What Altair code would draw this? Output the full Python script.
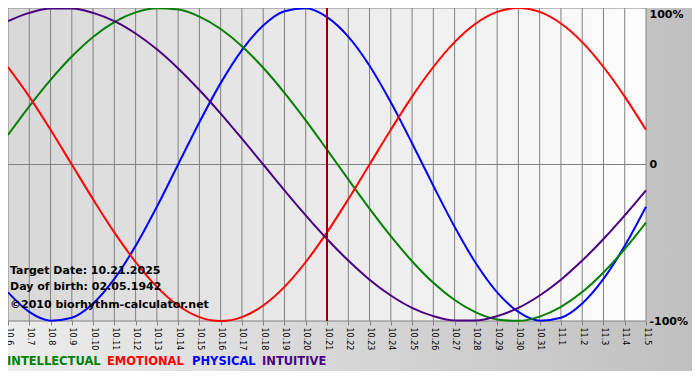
import altair as alt
import pandas as pd

# ---------------- data ----------------
days = ["10.6", "10.7", "10.8", "10.9", "10.10", "10.11", "10.12", "10.13", "10.14",
        "10.15", "10.16", "10.17", "10.18", "10.19", "10.20", "10.21", "10.22", "10.23",
        "10.24", "10.25", "10.26", "10.27", "10.28", "10.29", "10.30", "10.31",
        "11.1", "11.2", "11.3", "11.4", "11.5"]
target_day = "10.21"

physical = [-0.817, -0.942, -0.998, -0.979, -0.888, -0.731, -0.520, -0.270, 0.0, 0.270,
            0.520, 0.731, 0.888, 0.979, 0.998, 0.942, 0.817, 0.631, 0.398, 0.136,
            -0.136, -0.398, -0.631, -0.817, -0.942, -0.998, -0.979, -0.888, -0.731,
            -0.520, -0.270]
emotional = [0.623, 0.434, 0.222, 0.0, -0.222, -0.434, -0.623, -0.782, -0.901, -0.975,
             -1.0, -0.975, -0.901, -0.782, -0.623, -0.434, -0.222, 0.0, 0.222, 0.434,
             0.623, 0.782, 0.901, 0.975, 1.0, 0.975, 0.901, 0.782, 0.623, 0.434, 0.222]
intellectual = [0.189, 0.372, 0.541, 0.690, 0.815, 0.910, 0.972, 0.999, 0.990, 0.945,
                0.866, 0.756, 0.618, 0.458, 0.282, 0.095, -0.095, -0.282, -0.458, -0.618,
                -0.756, -0.866, -0.945, -0.990, -0.999, -0.972, -0.910, -0.815, -0.690,
                -0.541, -0.372]
intuitive = [0.916, 0.969, 0.997, 0.997, 0.969, 0.916, 0.837, 0.736, 0.614, 0.476,
             0.325, 0.165, 0.0, -0.165, -0.325, -0.476, -0.614, -0.736, -0.837, -0.916,
             -0.969, -0.997, -0.997, -0.969, -0.916, -0.837, -0.736, -0.614, -0.476,
             -0.325, -0.165]

series_names = ["INTELLECTUAL", "EMOTIONAL", "PHYSICAL", "INTUITIVE"]
series_colors = ["#008000", "#ff0000", "#0000ff", "#4b0082"]
draw_order = ["PHYSICAL", "INTELLECTUAL", "EMOTIONAL", "INTUITIVE"]
legend_x = [-1, 99, 184, 254]

y_ticks = [-1, 0, 1]
y_labels = ["-100%", "0", "100%"]

notes = ["Target Date: 10.21.2025", "Day of birth: 02.05.1942", "\u00a92010 biorhythm-calculator.net"]
notes_y = [263, 279, 297]

# ---------------- layout ----------------
W, H = 638, 313
PAD_R, PAD_B = 46, 50
FONT = "DejaVu Sans"

df = pd.DataFrame({"day": days, "INTELLECTUAL": intellectual, "EMOTIONAL": emotional,
                   "PHYSICAL": physical, "INTUITIVE": intuitive})
color_of = dict(zip(series_names, series_colors))

xscale = alt.Scale(type="point", padding=0, domain=days)
yscale = alt.Scale(domain=[-1, 1], nice=False, zero=False)

label_expr = " : ".join(f"datum.value == {v} ? '{l}'" for v, l in zip(y_ticks, y_labels)) + " : ''"

x_axis = alt.Axis(title=None, labelAngle=90, labelFont=FONT, labelFontSize=8,
                  labelColor="black", grid=False, domain=False, ticks=True,
                  tickColor="#808080", tickSize=4, labelPadding=2, labelOverlap=False,
                  labelBound=False, labelFlush=False, zindex=1)
y_axis = alt.Axis(title=None, orient="right", values=y_ticks, labelExpr=label_expr,
                  grid=False, domain=False, ticks=False, labelFont=FONT,
                  labelFontSize=11, labelFontWeight="bold", labelColor="black",
                  labelPadding=3, zindex=1,
                  labelBaseline={"condition": {"test": "datum.value == 1", "value": "top"},
                                 "value": "middle"})

one = pd.DataFrame({"a": [0]})

outer_bg = alt.Chart(one).mark_rect(
    color=alt.Gradient(gradient="linear", x1=0, x2=1, y1=0, y2=0,
                       stops=[alt.GradientStop(color="#ececec", offset=0),
                              alt.GradientStop(color="#c0c0c0", offset=1)])
).encode(x=alt.value(0), x2=alt.value(W + PAD_R), y=alt.value(0), y2=alt.value(H + PAD_B))

plot_bg = alt.Chart(one).mark_rect(
    color=alt.Gradient(gradient="linear", x1=0, x2=1, y1=0, y2=0,
                       stops=[alt.GradientStop(color="#d8d8d8", offset=0),
                              alt.GradientStop(color="#fdfdfd", offset=1)])
).encode(x=alt.value(0), x2=alt.value(W), y=alt.value(0), y2=alt.value(H))

vgrid = alt.Chart(pd.DataFrame({"day": days})).mark_rule(color="#808080", strokeWidth=1).encode(
    x=alt.X("day:O", scale=xscale, axis=x_axis))
hgrid = alt.Chart(pd.DataFrame({"v": y_ticks})).mark_rule(color="#808080", strokeWidth=1).encode(
    y=alt.Y("v:Q", scale=yscale, axis=y_axis))

lines = []
for name in draw_order:
    lines.append(
        alt.Chart(df).mark_line(color=color_of[name], strokeWidth=2, interpolate="monotone").encode(
            x=alt.X("day:O", scale=xscale, axis=x_axis),
            y=alt.Y(f"{name}:Q", scale=yscale, axis=y_axis)))

target = alt.Chart(pd.DataFrame({"day": [target_day]})).mark_rule(
    color="#800000", strokeWidth=2).encode(x=alt.X("day:O", scale=xscale, axis=x_axis))

note_layers = []
for t, yy in zip(notes, notes_y):
    note_layers.append(
        alt.Chart(pd.DataFrame({"t": [t]})).mark_text(
            align="left", baseline="middle", font=FONT, fontSize=11, fontWeight="bold",
            color="black").encode(x=alt.value(2), y=alt.value(yy), text="t:N"))

legend_layers = []
for name, c, lx in zip(series_names, series_colors, legend_x):
    legend_layers.append(
        alt.Chart(pd.DataFrame({"t": [name]})).mark_text(
            align="left", baseline="middle", font=FONT, fontSize=11.5, fontWeight="bold",
            color=c).encode(x=alt.value(lx), y=alt.value(H + 41), text="t:N"))

chart = alt.layer(outer_bg, plot_bg, vgrid, hgrid, *lines, target, *note_layers,
                  *legend_layers).properties(
    width=W, height=H,
    autosize=alt.AutoSizeParams(type="none"),
    padding={"left": 0, "top": 0, "right": PAD_R, "bottom": PAD_B},
    background="#d6d6d6",
).configure_view(strokeWidth=0)

chart.save("out.html", embed_options={"renderer": "svg", "actions": False})
